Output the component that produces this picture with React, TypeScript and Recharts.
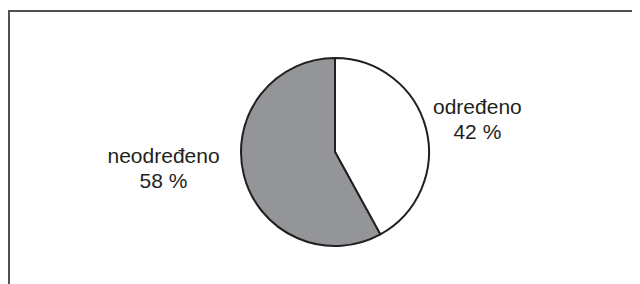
import React from "react";
import { PieChart, Pie, Cell } from "recharts";

const categories = ["određeno", "neodređeno"];
const values = [42, 58];
const percentLabels = ["42 %", "58 %"];
const fills = ["#ffffff", "#939598"];

const data = categories.map((name, i) => ({ name, value: values[i], pct: percentLabels[i] }));

const FONT = "'Liberation Sans', Arial, Helvetica, sans-serif";
const TEXT = "#231f20";

const RADIAN = Math.PI / 180;

const renderLabel = (props: any) => {
  const { cx, cy, midAngle, outerRadius, index } = props;
  const cos = Math.cos(-midAngle * RADIAN);
  const right = cos >= 0;
  const r = right ? outerRadius + 53 : outerRadius + 83;
  const x = cx + r * cos;
  const y = right ? cy - 38 : cy + 11;
  const d = data[index];
  return (
    <text
      x={x}
      y={y}
      textAnchor="middle"
      fill={TEXT}
      fontFamily={FONT}
      fontSize={21}
    >
      <tspan x={x} y={y}>{d.name}</tspan>
      <tspan x={x} y={y + 25}>{d.pct}</tspan>
    </text>
  );
};

export default function App() {
  return (
    <div style={{ position: "relative", width: 632, height: 276 }}>
      <div
        style={{
          position: "absolute",
          left: 0,
          top: 2,
          width: 630,
          height: 274,
          borderLeft: "2px solid #505050",
          borderTop: "2px solid #505050",
        }}
      />
      <div style={{ position: "absolute", left: 0, top: 0 }}>
        <PieChart width={632} height={276} margin={{ top: 0, right: 0, bottom: 0, left: 0 }}>
          <Pie
            data={data}
            dataKey="value"
            nameKey="name"
            cx={327}
            cy={144}
            outerRadius={94}
            startAngle={90}
            endAngle={-270}
            stroke="#231f20"
            strokeWidth={2}
            label={renderLabel}
            labelLine={false}
            isAnimationActive={false}
          >
            {data.map((d, i) => (
              <Cell key={d.name} fill={fills[i]} />
            ))}
          </Pie>
        </PieChart>
      </div>
    </div>
  );
}
